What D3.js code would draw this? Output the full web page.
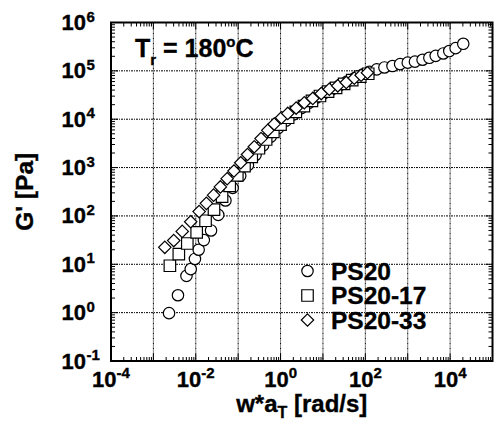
<!DOCTYPE html>
<html>
<head>
<meta charset="utf-8">
<script src="https://cdn.jsdelivr.net/npm/d3@7"></script>
<style>
  body { margin: 0; background: #fff; }
  svg { display: block; font-family: "Liberation Sans", Arial, sans-serif; font-weight: bold; }
  text { stroke: #000; stroke-width: 0.35px; }
</style>
</head>
<body>
<svg id="chart" width="494" height="426"></svg>
<script>
// PS20 (circles)
const ps20W = [2.34e-3, 3.80e-3, 6.03e-3, 7.59e-3, 9.55e-3, 1.17e-2, 1.55e-2, 2.29e-2, 3.39e-2, 5.01e-2,
    7.41e-2, 0.112, 0.170, 0.257, 0.389, 0.589, 0.891, 1.35, 2.04, 3.09, 4.68, 7.08, 10.7, 16.2, 24.5,
    37.2, 56.2, 85.1, 126, 186, 282, 437, 661, 1000, 1479, 2239, 3236, 4571, 6918, 9550, 13490, 20420];
const ps20G = [0.977, 2.29, 5.75, 7.94, 12.9, 20.0, 31.6, 50.1, 105, 209,
    380, 676, 1122, 1820, 2884, 4365, 6607, 9333, 12590, 16980, 21880, 28180, 34670, 41690, 50120,
    60260, 70790, 83180, 95500, 107200, 117500, 125900, 138000, 147900, 154900, 169800, 186200, 204200, 229100, 257000, 295100, 363100];

// PS20-17 (squares)
const ps2017W = [2.45e-3, 3.98e-3, 6.31e-3, 1.05e-2, 1.70e-2, 2.69e-2, 4.17e-2, 6.31e-2, 9.55e-2, 0.141,
    0.209, 0.309, 0.457, 0.676, 1.0, 1.51, 2.29, 3.55, 5.50, 8.51, 13.2, 20.4, 31.6, 49.0, 75.9, 117];
const ps2017G = [9.33, 16.2, 26.9, 45.7, 79.4, 135, 251, 417, 692, 1072,
    1660, 2512, 3802, 5495, 7762, 10720, 14130, 18620, 23990, 30200, 37150, 44670, 53700, 64570, 75860, 87100];

// PS20-33 (diamonds)
const ps2033W = [1.86e-3, 3.02e-3, 4.79e-3, 7.59e-3, 1.20e-2, 1.78e-2, 2.63e-2, 3.80e-2, 5.50e-2, 7.94e-2,
    0.115, 0.166, 0.240, 0.347, 0.501, 0.708, 1.05, 1.48, 2.34, 3.63, 5.75, 9.12, 14.1, 22.4, 35.5, 55.0, 79.4, 112];
const ps2033G = [22.4, 30.9, 47.9, 75.9, 123, 182, 269, 398, 589, 851,
    1259, 1862, 2692, 3981, 5888, 7943, 10720, 13180, 16980, 21880, 26920, 33880, 41690, 48980, 57540, 70790, 81280, 91200];

const xTickExp = [-4, -2, 0, 2, 4];
const yTickExp = [-1, 0, 1, 2, 3, 4, 5, 6];
const legendNames = ["PS20", "PS20-17", "PS20-33"];

const svg = d3.select("#chart");
const margin = {left: 111, top: 22.5, right: 1.5, bottom: 65};
const width = 494 - margin.left - margin.right;
const height = 426 - margin.top - margin.bottom;

const x = d3.scaleLog().domain([1e-4, 1e5]).range([0, width]);
const y = d3.scaleLog().domain([1e-1, 1e6]).range([height, 0]);

const g = svg.append("g").attr("transform", `translate(${margin.left},${margin.top})`);

//grid lines at every decade
const xDecades = d3.range(-4, 6).map(e => Math.pow(10, e));
const yDecades = d3.range(-1, 7).map(e => Math.pow(10, e));
g.append("g").selectAll("line").data(xDecades).join("line")
    .attr("x1", d => x(d)).attr("x2", d => x(d))
    .attr("y1", 0).attr("y2", height)
    .attr("stroke", "#000").attr("stroke-width", 1).attr("stroke-dasharray", "2,1,1,1");
g.append("g").selectAll("line").data(yDecades).join("line")
    .attr("y1", d => y(d)).attr("y2", d => y(d))
    .attr("x1", 0).attr("x2", width)
    .attr("stroke", "#000").attr("stroke-width", 1).attr("stroke-dasharray", "2,1,1,1");

//inside ticks on all four sides
const minorX = [], minorY = [];
for (let e = -4; e < 5; e++) for (let m = 2; m < 10; m++) minorX.push(m * Math.pow(10, e));
for (let e = -1; e < 6; e++) for (let m = 2; m < 10; m++) minorY.push(m * Math.pow(10, e));
const ticks = g.append("g").attr("stroke", "#000").attr("stroke-width", 1);
[[0, 1], [height, -1]].forEach(([yy, dir]) => {
    ticks.append("g").selectAll("line").data(minorX).join("line")
        .attr("x1", d => x(d)).attr("x2", d => x(d))
        .attr("y1", yy).attr("y2", yy + dir * 4);
    ticks.append("g").selectAll("line").data(xDecades).join("line")
        .attr("x1", d => x(d)).attr("x2", d => x(d))
        .attr("y1", yy).attr("y2", yy + dir * 7);
});
[[0, 1], [width, -1]].forEach(([xx, dir]) => {
    ticks.append("g").selectAll("line").data(minorY).join("line")
        .attr("y1", d => y(d)).attr("y2", d => y(d))
        .attr("x1", xx).attr("x2", xx + dir * 4);
    ticks.append("g").selectAll("line").data(yDecades).join("line")
        .attr("y1", d => y(d)).attr("y2", d => y(d))
        .attr("x1", xx).attr("x2", xx + dir * 7);
});

//frame
g.append("rect").attr("width", width).attr("height", height)
    .attr("fill", "none").attr("stroke", "#000").attr("stroke-width", 2);

//tick labels
const xLab = g.append("g").selectAll("text").data(xTickExp).join("text")
    .attr("x", d => x(Math.pow(10, d)))
    .attr("y", height + 26)
    .attr("text-anchor", "middle")
    .attr("font-size", 22);
xLab.append("tspan").text("10");
xLab.append("tspan").attr("dy", -9).attr("font-size", 15).text(d => d);

const yLab = g.append("g").selectAll("g").data(yTickExp).join("g")
    .attr("transform", d => `translate(${86 - margin.left},${y(Math.pow(10, d)) + 7.5})`);
yLab.append("text").attr("text-anchor", "end").attr("font-size", 22).text("10");
yLab.append("text").attr("x", 0.5).attr("y", -8.5).attr("font-size", 15).text(d => d);

//axis titles
const xt = svg.append("text")
    .attr("x", margin.left + width / 2).attr("y", 412)
    .attr("text-anchor", "middle").attr("font-size", 24);
xt.append("tspan").text("w*a");
xt.append("tspan").attr("font-size", 16).attr("dy", 6).text("T");
xt.append("tspan").attr("dy", -6).text(" [rad/s]");

svg.append("text")
    .attr("transform", `translate(33,${margin.top + height / 2}) rotate(-90)`)
    .attr("text-anchor", "middle").attr("font-size", 24.5)
    .text("G' [Pa]");

//annotation
const ann = g.append("text").attr("x", 24).attr("y", 34).attr("font-size", 25);
ann.append("tspan").text("T");
ann.append("tspan").attr("font-size", 15).attr("dy", 8).text("r");
ann.append("tspan").attr("dy", -8).text(" = 180");
ann.append("tspan").attr("font-size", 15).attr("dy", -10).text("o");
ann.append("tspan").attr("dy", 10).text("C");

//markers
const symCircle = d3.symbol().type(d3.symbolCircle).size(Math.PI * 5.7 * 5.7);
const symSquare = d3.symbol().type(d3.symbolSquare).size(11.5 * 11.5);
const diamond = "M0,-6.2L6.2,0L0,6.2L-6.2,0Z";

const series = [
    {w: ps20W, gv: ps20G, path: symCircle()},
    {w: ps2017W, gv: ps2017G, path: symSquare()},
    {w: ps2033W, gv: ps2033G, path: diamond}
];

series.forEach(s => {
    g.append("g").selectAll("path").data(s.w.map((w, i) => [w, s.gv[i]])).join("path")
        .attr("transform", d => `translate(${x(d[0])},${y(d[1])})`)
        .attr("d", s.path)
        .attr("fill", "#fff").attr("stroke", "#000").attr("stroke-width", 1.2);
});

//legend
const leg = svg.append("g").selectAll("g").data(legendNames).join("g")
    .attr("transform", (d, i) => `translate(307.5,${271 + i * 24.5})`);
leg.append("path")
    .attr("d", (d, i) => series[i].path)
    .attr("fill", "#fff").attr("stroke", "#000").attr("stroke-width", 1.2);
leg.append("text").attr("x", 23.5).attr("y", 8.5).attr("font-size", 24.5).text(d => d);
</script>
</body>
</html>
